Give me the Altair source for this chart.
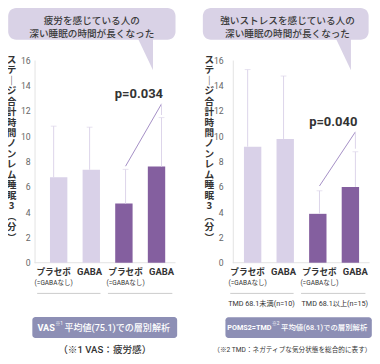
import altair as alt
import pandas as pd

# ---------------- data ----------------
bar_index = [0, 1, 2, 3]
bar_tone = ["light", "light", "dark", "dark"]
x_labels = ["プラセボ", "GABA", "プラセボ", "GABA"]
x_sublabels = ["(=GABAなし)", "", "(=GABAなし)", ""]

fatigue_means = [6.74, 7.34, 4.67, 7.60]
fatigue_upper = [10.78, 10.70, 7.37, 11.46]
fatigue_sig = [7.62, 12.54, 11.66]
fatigue_p = "p=0.034"

stress_means = [9.16, 9.77, 3.86, 5.98]
stress_upper = [15.25, 14.74, 5.68, 8.76]
stress_sig = [6.06, 10.33, 9.00]
stress_p = "p=0.040"

y_ticks = [0, 2, 4, 6, 8, 10, 12, 14, 16]
y_title = ["ス", "テ", "｜", "ジ", "合", "計", "時", "間", "ノ", "ン", "レ", "ム",
           "睡", "眠", "3", "︵", "分", "︶"]

fatigue_callout = ["疲労を感じている人の", "深い睡眠の時間が長くなった"]
stress_callout = ["強いストレスを感じている人の", "深い睡眠の時間が長くなった"]
stress_groups = ["TMD 68.1未満(n=10)", "TMD 68.1以上(n=15)"]
fatigue_box = ["VAS", "※1", "平均値(75.1)での層別解析"]
stress_box = ["POMS2=TMD", "※2", "平均値(68.1)での層別解析"]
fatigue_note = "（※1 VAS：疲労感）"
stress_note = "（※2 TMD：ネガティブな気分状態を総合的に表す）"

# ---------------- layout helpers ----------------
W, H = 364, 348
RX0, RX1, RY1 = 1.5, 378.5, 363.0
SX = W / (RX1 - RX0)
SY = H / RY1
FS = (SX + SY) / 2


def X(v):
    return (v - RX0) * SX


def Y(v):
    return v * SY


JP = "Noto Sans CJK JP"
NUM = "Roboto, Noto Sans CJK JP"
LIGHT = "#d9d1e8"
DARK = "#845f9f"
ERR = "#ddd5ea"
SIG = "#a590c6"
CALLOUT = "#d9d2e6"
BOX = "#8d8fb5"
AXIS = "#e3e3e3"
TXT = "#333333"
TICK = "#666666"
ULINE = "#cccccc"

one = pd.DataFrame({"k": [0]})


def label(text, x, y, size, color=TXT, font=JP, align="center", weight="normal",
          baseline="middle", **kw):
    return alt.Chart(one).mark_text(
        text=text, fontSize=size * FS, color=color, font=font, align=align,
        fontWeight=weight, baseline=baseline, **kw
    ).encode(x=alt.value(X(x)), y=alt.value(Y(y)))


def box(x0, x1, y0, y1, color, radius=0):
    return alt.Chart(one).mark_rect(color=color, cornerRadius=radius).encode(
        x=alt.value(X(x0)), x2=alt.value(X(x1)), y=alt.value(Y(y0)), y2=alt.value(Y(y1))
    )


def hline(x0, x1, y, color):
    return alt.Chart(one).mark_rule(color=color, strokeWidth=1).encode(
        x=alt.value(X(x0)), x2=alt.value(X(x1)), y=alt.value(Y(y))
    )


def tail(xr, ytop, ytip, width, color):
    h = (ytip - ytop) * SY
    w = width * SX
    u = 2 * w / h
    path = f"M {-u:.3f} -1 L 0 -1 L 0 1 Z"
    return alt.Chart(one).mark_point(
        shape=path, filled=True, size=h * h, color=color, opacity=1, strokeWidth=0
    ).encode(x=alt.value(X(xr)), y=alt.value(Y((ytop + ytip) / 2)))


def vertical_title(xc):
    tdf = pd.DataFrame({"n": list(range(len(y_title))), "ch": y_title})
    return alt.Chart(tdf).mark_text(
        font=JP, fontWeight="bold", fontSize=10 * FS, color=TXT, align="center",
        baseline="middle").encode(
        x=alt.value(X(xc)),
        y=alt.Y("n:Q", scale=alt.Scale(domain=[0, len(y_title) - 1],
                                       range=[Y(54), Y(239.5)], nice=False, zero=False),
                axis=None),
        text="ch:N")


def panel(means, upper, sig, ptext, cfg):
    df = pd.DataFrame({"i": bar_index, "mean": means, "upper": upper,
                       "tone": bar_tone, "label": x_labels, "sub": x_sublabels})
    xs = alt.Scale(domain=[0, 3], range=[X(cfg["c0"]), X(cfg["c3"])], zero=False, nice=False)
    ys = alt.Scale(domain=[0, 16], range=[Y(265.7), Y(54.3)], nice=False)
    xq = alt.X("i:Q", scale=xs, axis=None)
    base = alt.Chart(df)
    bars = base.mark_bar(size=18 * SX).encode(
        x=xq,
        y=alt.Y("mean:Q", scale=ys, axis=alt.Axis(
            orient="left", offset=-X(cfg["axis"]), values=y_ticks, ticks=False,
            grid=False, domainColor=AXIS, labelColor=TICK, labelFont=NUM,
            labelFontSize=9 * FS, labelPadding=cfg["pad"] * SX, title=None)),
        color=alt.Color("tone:N", scale=alt.Scale(domain=["light", "dark"],
                                                  range=[LIGHT, DARK]), legend=None),
    )
    err = base.mark_rule(color=ERR, strokeWidth=1).encode(
        x=xq, y=alt.Y("mean:Q", scale=ys, axis=None), y2="upper:Q")
    caps = base.mark_tick(orient="horizontal", color=ERR, size=6 * SX, thickness=1).encode(
        x=xq, y=alt.Y("upper:Q", scale=ys, axis=None))
    diag = alt.Chart(pd.DataFrame({"a": [2], "b": [3], "lo": [sig[0]], "hi": [sig[1]]})).mark_rule(
        color=SIG, strokeWidth=1).encode(
        x=alt.X("a:Q", scale=xs, axis=None), x2="b:Q",
        y=alt.Y("lo:Q", scale=ys, axis=None), y2="hi:Q")
    vert = alt.Chart(pd.DataFrame({"b": [3], "hi": [sig[1]], "end": [sig[2]]})).mark_rule(
        color=ERR, strokeWidth=1).encode(
        x=alt.X("b:Q", scale=xs, axis=None),
        y=alt.Y("hi:Q", scale=ys, axis=None), y2="end:Q")
    ptxt = alt.Chart(pd.DataFrame({"i": [3], "p": [ptext]})).mark_text(
        align="right", dx=cfg["pdx"], font=NUM, fontWeight="bold", fontSize=13.5 * FS,
        color=TXT, baseline="middle").encode(
        x=alt.X("i:Q", scale=xs, axis=None), y=alt.value(Y(cfg["py"])), text="p:N")
    lab = base.mark_text(font=NUM, fontWeight="bold",
                         color=TXT, baseline="middle").encode(
        x=xq, y=alt.value(Y(275.7)), text="label:N",
        size=alt.condition(alt.datum.label == "GABA", alt.value(9.8 * FS), alt.value(9 * FS)))
    sub = base.mark_text(font=NUM, fontSize=6.8 * FS,
                         color=TXT, baseline="middle").encode(
        x=xq, y=alt.value(Y(287.3)), text="sub:N")
    baseline_rule = hline(cfg["axis"], cfg["right"], 265.7, AXIS)
    return [baseline_rule, bars, err, caps, diag, vert, ptxt, lab, sub, vertical_title(cfg["tx"])]


left_cfg = dict(c0=48.8, c3=160.5, axis=29, right=175, pad=4.5, tx=5.2, pdx=1.5, py=90)
right_cfg = dict(c0=249.7, c3=361.3, axis=234.3, right=376, pad=10, tx=210, pdx=2, py=118.5)

layers = []
# callouts
layers += [box(1.7, 175, 0, 33, CALLOUT, 8), tail(151.7, 31, 65, 16, CALLOUT),
           label(fatigue_callout[0], 88.3, 13.5, 10, color="#3a3a3a", weight=500),
           label(fatigue_callout[1], 88.3, 26.8, 10, color="#3a3a3a", weight=500)]
layers += [box(203.3, 375, 0, 33, CALLOUT, 8), tail(356.7, 31, 65, 16, CALLOUT),
           label(stress_callout[0], 291, 13.5, 10, color="#3a3a3a", weight=500),
           label(stress_callout[1], 291, 26.8, 10, color="#3a3a3a", weight=500)]
layers += panel(fatigue_means, fatigue_upper, fatigue_sig, fatigue_p, left_cfg)
layers += panel(stress_means, stress_upper, stress_sig, stress_p, right_cfg)
# group separators
layers += [hline(31.7, 97.3, 297.7, ULINE), hline(105, 171.7, 297.7, ULINE),
           hline(231.7, 297.3, 297.7, ULINE), hline(305, 371.7, 297.7, ULINE)]
layers += [label(stress_groups[0], 264, 308.5, 7.5, font=NUM),
           label(stress_groups[1], 340, 308.5, 7.5, font=NUM)]
# bottom boxes
layers += [box(26.7, 176.7, 322.3, 344.3, BOX, 3),
           label(fatigue_box[0], 50, 333.5, 9.5, color="white", font=NUM, align="right", weight="bold"),
           label(fatigue_box[1], 50.7, 330, 5, color="white", font=NUM, align="left"),
           label(fatigue_box[2], 60, 333.5, 9.4, color="white", font=NUM, align="left", weight=500)]
layers += [box(226.7, 378.3, 322.7, 344.3, BOX, 3),
           label(stress_box[0], 274.3, 333.5, 7.5, color="white", font=NUM, align="right", weight="bold"),
           label(stress_box[1], 275, 330, 5, color="white", font=NUM, align="left"),
           label(stress_box[2], 284.3, 333.5, 7.7, color="white", font=NUM, align="left", weight=500)]
layers += [label(fatigue_note, 101.7, 356.7, 10, font=NUM, weight=500),
           label(stress_note, 296, 356.7, 6.9, font=NUM)]

chart = alt.layer(*layers).resolve_scale(x="independent", y="independent").properties(
    width=W, height=H, autosize=alt.AutoSizeParams(type="none"), padding=0
).configure_view(stroke=None)

chart.save("out.html", embed_options={"renderer": "svg", "actions": False})
